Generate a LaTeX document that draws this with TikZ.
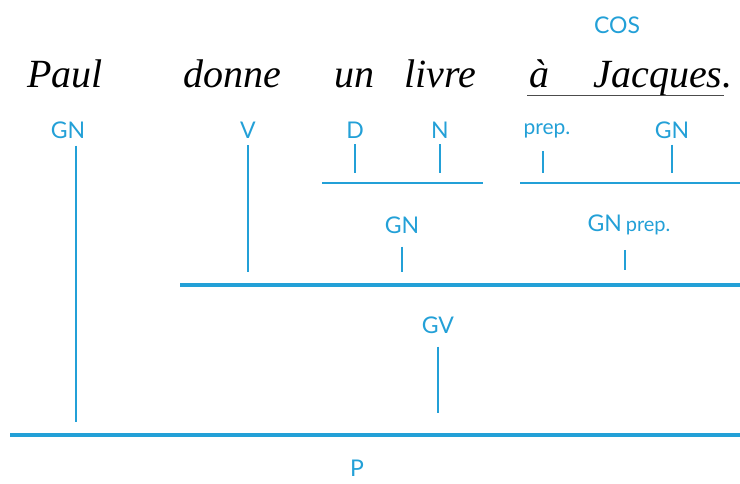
\documentclass[tikz,border=0pt]{standalone}
\usepackage{fontspec}
\setmainfont{Liberation Serif}
\newfontfamily\catfont{Lato}
\usetikzlibrary{positioning}
\definecolor{treeblue}{RGB}{35,160,215}

\tikzset{
	word/.style={font=\fontsize{40}{44}\selectfont\itshape, anchor=base, inner sep=0pt},
	cat/.style={font=\catfont\fontsize{23}{26}\selectfont, text=treeblue, inner sep=0pt},
	tick/.style={draw=treeblue, line width=1.6pt},
	bar/.style={draw=treeblue, line width=2pt},
}

\begin{document}
\begin{tikzpicture}[x=1pt, y=-1pt]
		
		\useasboundingbox (0,0) rectangle (740,484);
		
		% Sentence
		\node[word] (paul) at (65,88) {Paul};
		\node[word] (donne) at (232,88) {donne};
		\node[word] (un) at (354,88) {un};
		\node[word] (livre) at (440,88) {livre};
		\node[word] (a) at (539,88) {à};
		\node[word] (jacques) at (663,88) {Jacques.};
		\coordinate (ul1) at (527,95);
		\coordinate (ul2) at (724,95);
		\draw[black!70, line width=0.9pt] (ul1) -- (ul2);
		
		% Labels
		\node[cat] (cos) at (617,25) {COS};
		\node[cat] (gnpaul) at (68,130) {GN};
		\node[cat] (v) at (248,130) {V};
		\node[cat] (d) at (355,130) {D};
		\node[cat] (n) at (440,130) {N};
		\node[cat] (prep) at (547,131) {\fontsize{21}{24}\selectfont prep.};
		\node[cat] (gnjac) at (672,130) {GN};
		\node[cat] (gnlivre) at (402,225) {GN};
		\node[cat] (gnprep) at (629,225) {GN\,\fontsize{20}{22}\selectfont prep.};
		\node[cat] (gv) at (438,325) {GV};
		\node[cat] (p) at (357,468) {P};
		
		% Bars
		\coordinate (dn1) at (322,183);
		\coordinate (dn2) at (483,183);
		\coordinate (pg1) at (520,183);
		\coordinate (pg2) at (740,183);
		\coordinate (gv1) at (180,285);
		\coordinate (gv2) at (740,285);
		\coordinate (p1) at (10,435);
		\coordinate (p2) at (740,435);
		\draw[bar] (dn1) -- (dn2);
		\draw[bar] (pg1) -- (pg2);
		\draw[bar, line width=3.5pt] (gv1) -- (gv2);
		\draw[bar, line width=4.5pt] (p1) -- (p2);
		
		% Ticks
		\draw[tick] ([yshift=-6pt]d.south) -- (d.south |- 0,173);
		\draw[tick] ([yshift=-6pt]n.south) -- (n.south |- 0,173);
		\draw[tick] (543,151) -- (543,173);
		\draw[tick] ([yshift=-6pt]gnjac.south) -- (gnjac.south |- 0,173);
		\draw[tick] ([yshift=-13pt]gnlivre.south) -- (gnlivre.south |- 0,272);
		\draw[tick] (625,250) -- (625,270);
		\draw[tick] ([yshift=-13pt]gv.south) -- (gv.south |- 0,413);
		\draw[tick, line width=2.2pt] ([yshift=-7pt]v.south) -- (v.south |- 0,272);
		\draw[tick, line width=2pt] ([xshift=8pt,yshift=-7pt]gnpaul.south) -- ([xshift=8pt]gnpaul.south |- 0,422);
		
		\end{tikzpicture}
\end{document}
